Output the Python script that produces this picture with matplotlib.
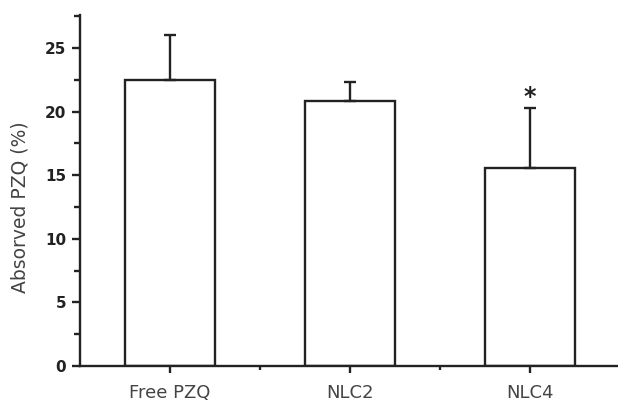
import matplotlib
matplotlib.use("Agg")
import matplotlib.pyplot as plt
import numpy as np
from matplotlib.ticker import MultipleLocator, FixedLocator

# Absorbed praziquantel per formulation (mean + SD)
categories = ["Free PZQ", "NLC2", "NLC4"]
absorbed = [22.5, 20.85, 15.55]
sd = [3.5, 1.5, 4.75]
significant = [False, False, True]

W, H = 618, 403
fig = plt.figure(figsize=(W / 100, H / 100), dpi=100)
fig.patch.set_facecolor("white")

left, right, bottom, top = 80, 618, 366, 15
ax = fig.add_axes([left / W, 1 - bottom / H, (right - left) / W, (bottom - top) / H])

ink = "#222222"
lw = 1.7
x = np.arange(len(categories))

ax.bar(x, absorbed, width=0.5, facecolor="white", edgecolor=ink, linewidth=lw, zorder=2)
ax.errorbar(x, absorbed, yerr=[np.zeros(len(sd)), sd], fmt="none", ecolor=ink,
            elinewidth=lw, capsize=4, capthick=lw, zorder=3)

for xi, v, e, s in zip(x, absorbed, sd, significant):
    if s:
        ax.text(xi, v + e + 0.3, "*", ha="center", va="baseline", fontsize=17,
                fontweight="bold", color=ink)

ax.set_xlim(-0.5, 2.49)
ax.set_ylim(0, 27.6)

ax.spines["top"].set_visible(False)
ax.spines["right"].set_visible(False)
for side in ("left", "bottom"):
    ax.spines[side].set_linewidth(lw)
    ax.spines[side].set_color(ink)

ax.set_xticks(x)
ax.set_xticklabels(categories, fontsize=13, color="#444444")
ax.xaxis.set_minor_locator(FixedLocator([0.5, 1.5, 2.5]))
ax.yaxis.set_major_locator(MultipleLocator(5))
ax.yaxis.set_minor_locator(MultipleLocator(2.5))
for lab in ax.get_yticklabels():
    lab.set_fontweight("bold")
    lab.set_fontsize(11)
    lab.set_color(ink)

ax.tick_params(axis="x", which="major", length=5, width=lw, color=ink, pad=8)
ax.tick_params(axis="x", which="minor", length=3, width=lw, color=ink)
ax.tick_params(axis="y", which="major", length=6, width=lw, color=ink, pad=4)
ax.tick_params(axis="y", which="minor", length=4, width=lw, color=ink)

fig.text(20 / W, 1 - 207 / H, "Absorved PZQ (%)", rotation=90, ha="center", va="center",
         fontsize=13.5, color="#444444")

fig.savefig("out.png", dpi=100, facecolor="white")
